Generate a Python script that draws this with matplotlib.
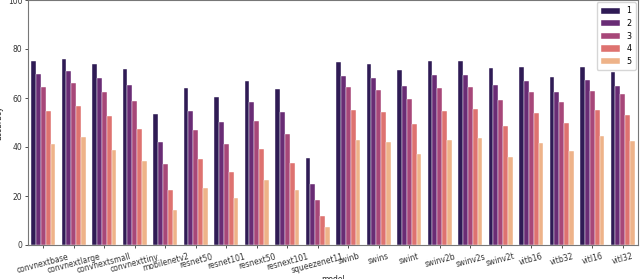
import matplotlib
matplotlib.use("Agg")
import matplotlib.pyplot as plt
import seaborn as sns
import numpy as np
import pandas as pd

models = ["convnextbase", "convnextlarge", "convnextsmall", "convnexttiny", "mobilenetv2",
          "resnet50", "resnet101", "resnext50", "resnext101", "squeezenet11",
          "swinb", "swins", "swint", "swinv2b", "swinv2s", "swinv2t",
          "vitb16", "vitb32", "vitl16", "vitl32"]
levels = ["1", "2", "3", "4", "5"]

acc_1 = [74.9, 75.9, 73.8, 71.7, 53.6, 63.9, 60.3, 66.9, 63.7, 35.6,
         74.5, 73.7, 71.5, 75.1, 75.1, 72.1, 72.5, 68.5, 72.5, 70.8]
acc_2 = [69.6, 71.2, 68.2, 65.4, 42.0, 54.7, 50.3, 58.4, 54.2, 24.9,
         68.9, 68.1, 65.1, 69.2, 69.3, 65.5, 66.9, 62.5, 67.4, 64.7]
acc_3 = [64.4, 66.1, 62.5, 58.8, 33.1, 46.8, 41.4, 50.7, 45.5, 18.5,
         64.4, 63.3, 59.5, 64.0, 64.5, 59.2, 62.6, 58.3, 63.0, 61.5]
acc_4 = [54.7, 56.9, 52.5, 47.5, 22.6, 34.9, 29.7, 39.0, 33.5, 11.9,
         55.2, 54.3, 49.2, 54.7, 55.7, 48.7, 53.9, 49.8, 55.2, 53.2]
acc_5 = [41.4, 44.0, 38.8, 34.1, 14.1, 23.4, 19.3, 26.7, 22.6, 7.2,
         42.9, 42.1, 37.1, 42.7, 43.6, 36.1, 41.6, 38.4, 44.3, 42.3]

series = [acc_1, acc_2, acc_3, acc_4, acc_5]
rows = []
for lvl, vals in zip(levels, series):
    for m, v in zip(models, vals):
        rows.append({"model": m, "level": lvl, "accuracy": v})
df = pd.DataFrame(rows)

plt.rcParams["font.family"] = ["DejaVu Sans"]
fig = plt.figure(figsize=(6.4, 2.79), dpi=100)
ax = fig.add_axes([28/640, 34/279, 610/640, 245/279])

sns.barplot(data=df, x="model", y="accuracy", hue="level", palette="magma",
            ax=ax, edgecolor="white", linewidth=0.3)

ax.set_ylim(0, 100)
ax.set_yticks([0, 20, 40, 60, 80, 100])
ax.tick_params(axis="both", labelsize=5.5, length=2.5, width=0.6, pad=1.5, colors="#333333")
ax.tick_params(axis="x", pad=2.5)
for lab in ax.get_xticklabels():
    lab.set_rotation(15)
    lab.set_ha("center")
ax.set_xlabel("model", fontsize=5.5, color="#222222")
ax.xaxis.set_label_coords(0.5, -30/245)
ax.set_ylabel("accuracy", fontsize=5.5, color="#222222")
ax.yaxis.set_label_coords(-25/610, 0.5)
for s in ax.spines.values():
    s.set_color("#777777")
    s.set_linewidth(0.8)
leg = ax.legend(loc="upper right", fontsize=5.8, title=None, frameon=True,
                handlelength=2.4, handleheight=0.8, labelspacing=0.45,
                borderpad=0.5, borderaxespad=0.3)
fig.savefig("out.png", dpi=100)
